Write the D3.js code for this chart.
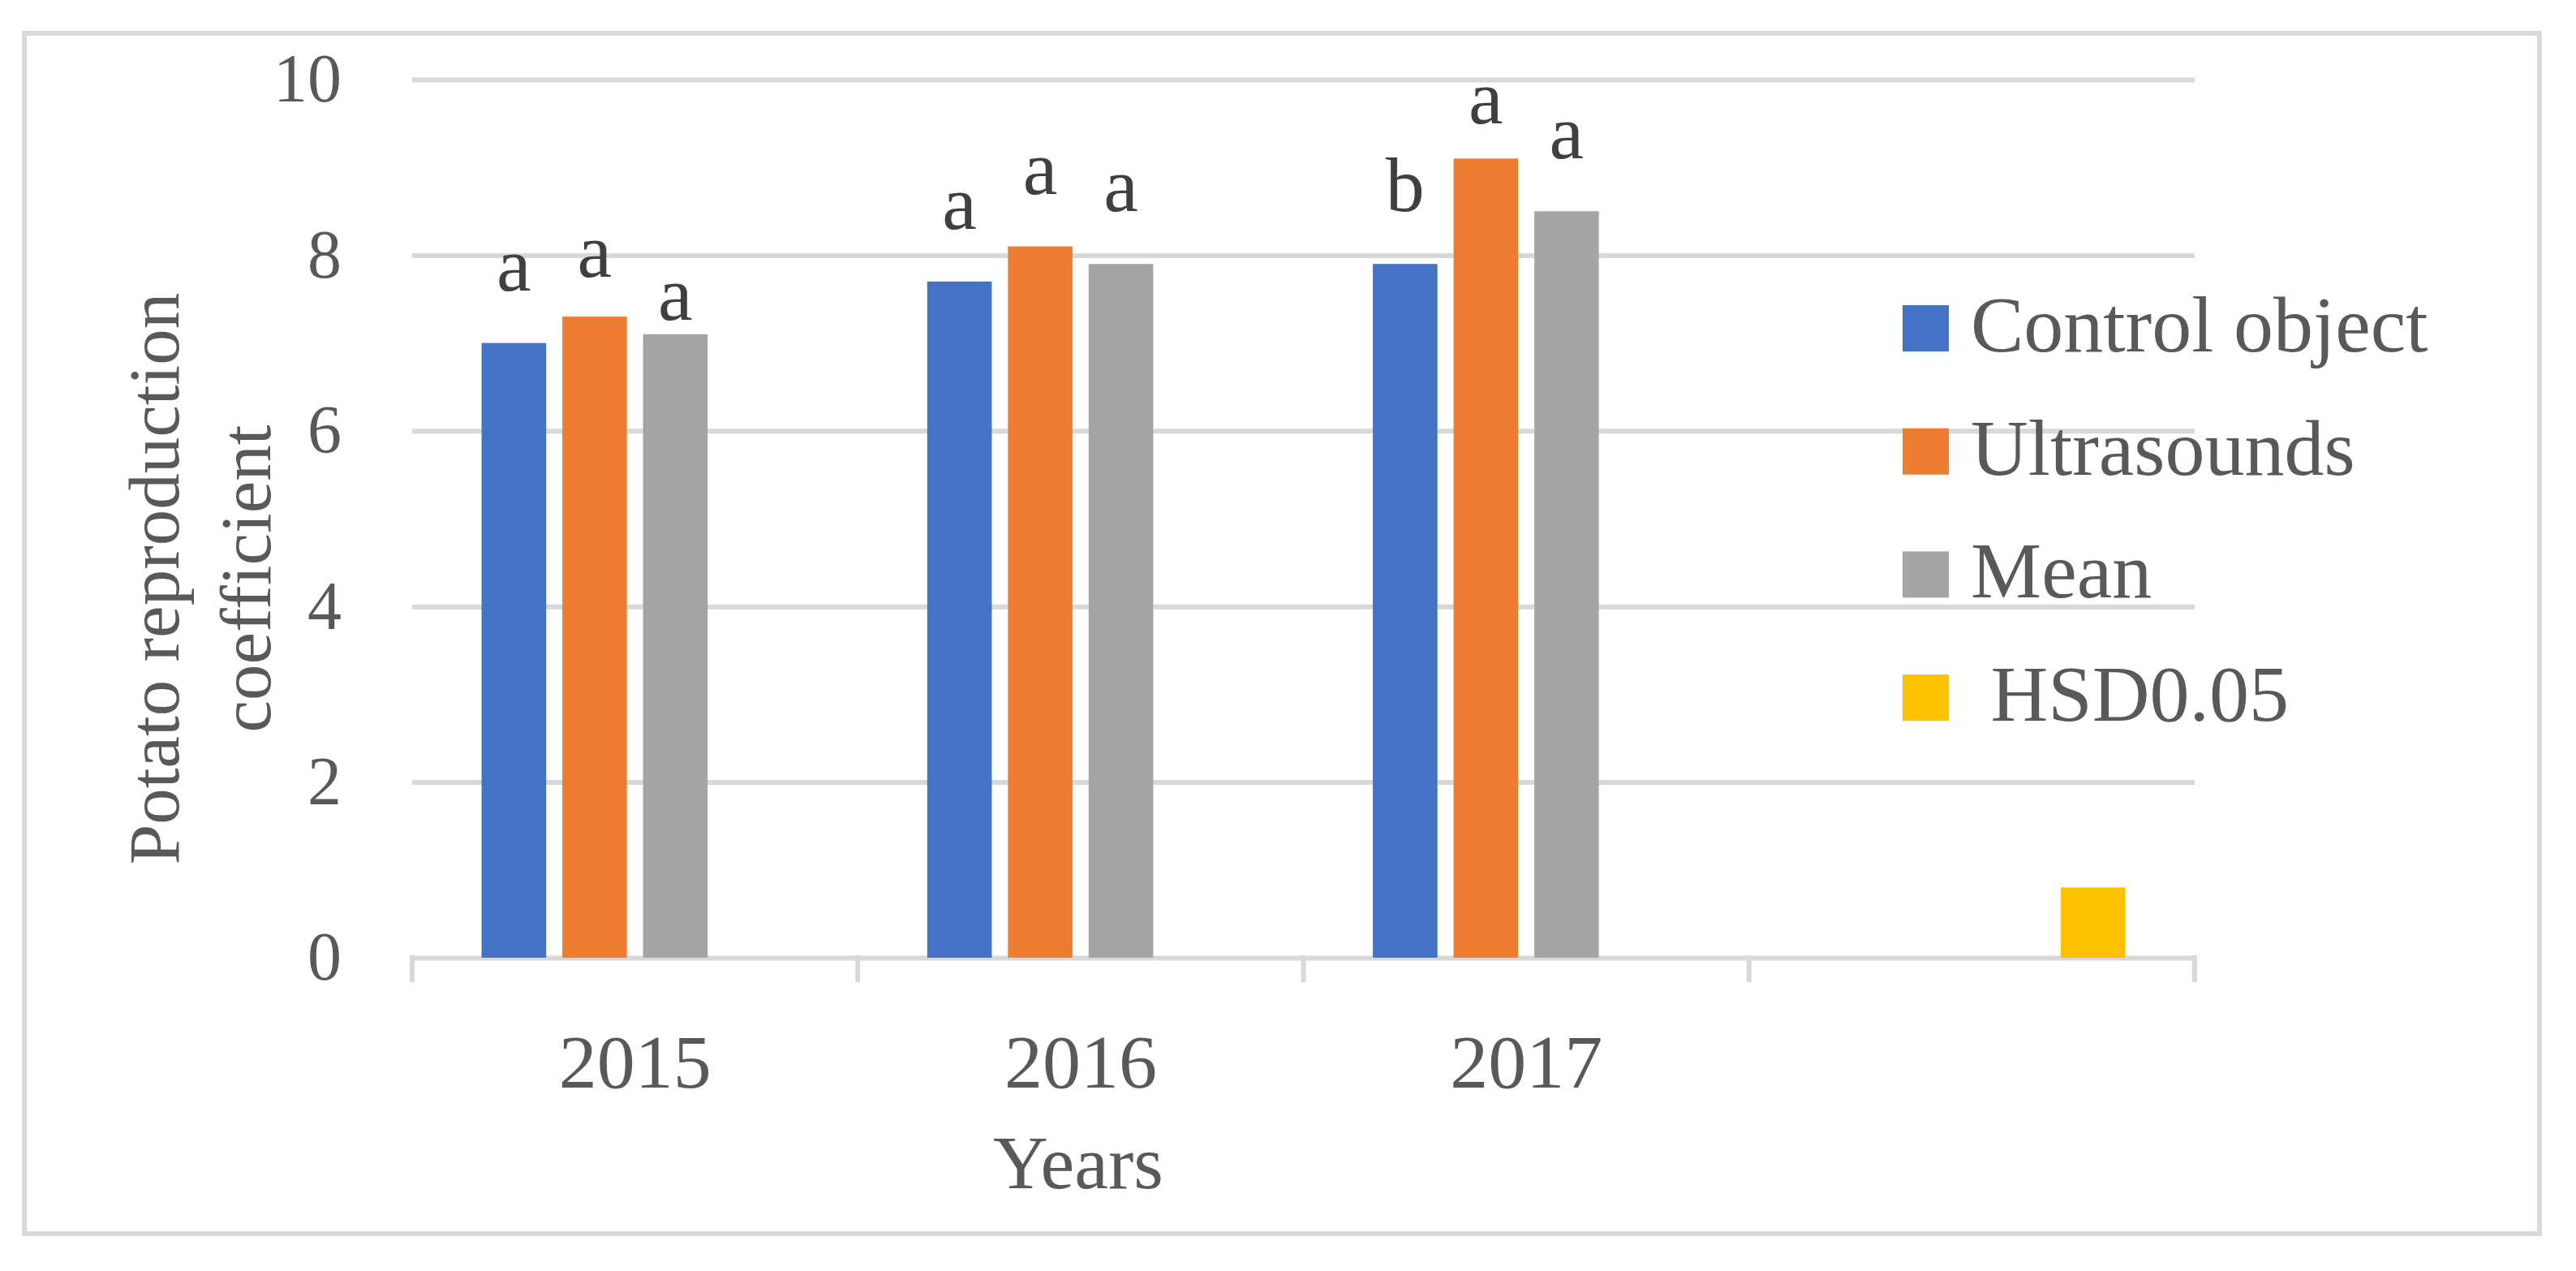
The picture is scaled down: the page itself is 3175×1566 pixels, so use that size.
<!DOCTYPE html>
<html>
<head>
<meta charset="utf-8">
<script src="https://cdn.jsdelivr.net/npm/d3@7/dist/d3.min.js"></script>
<style>
  body { margin: 0; background: #fff; }
  text { font-family: "Liberation Serif", "Times New Roman", serif; }
</style>
</head>
<body>
<script>
// data
var years = ["2015", "2016", "2017", ""];
var seriesNames = ["Control object", "Ultrasounds", "Mean", " HSD0.05"];
var controlValues = [7.0, 7.7, 7.9, null];
var ultrasoundValues = [7.3, 8.1, 9.1, null];
var meanValues = [7.1, 7.9, 8.5, null];
var hsdValues = [null, null, null, 0.8];
var controlLetters = ["a", "a", "b"];
var ultrasoundLetters = ["a", "a", "a"];
var meanLetters = ["a", "a", "a"];
var yTicks = [0, 2, 4, 6, 8, 10];
var colors = ["#4472C4", "#ED7D31", "#A5A5A5", "#FFC000"];

var W = 3175, H = 1566;
var plotLeft = 508, plotRight = 2705, plotTop = 98, plotBottom = 1180;
var grey = "#d9d9d9";

var svg = d3.select("body").append("svg")
    .attr("width", W).attr("height", H);

svg.append("rect").attr("width", W).attr("height", H).attr("fill", "#fff");

// chart border
svg.append("rect")
    .attr("x", 30).attr("y", 41)
    .attr("width", 3100).attr("height", 1479)
    .attr("fill", "none")
    .attr("stroke", grey)
    .attr("stroke-width", 6);

var y = d3.scaleLinear().domain([0, 10]).range([plotBottom, plotTop]);
var x0 = d3.scaleBand().domain(years).range([plotLeft, plotRight]).paddingInner(0).paddingOuter(0);
var x1 = d3.scaleBand().domain(seriesNames).range([0, x0.bandwidth()])
    .paddingInner(0.2).paddingOuter(0.86);

// gridlines + y tick labels
var yAxis = svg.append("g")
    .attr("transform", "translate(" + plotLeft + ",0)")
    .call(d3.axisLeft(y).tickValues(yTicks).tickSize(-(plotRight - plotLeft)).tickPadding(87));
yAxis.select(".domain").remove();
yAxis.selectAll(".tick line").attr("stroke", grey).attr("stroke-width", 6);
yAxis.selectAll(".tick text")
    .attr("fill", "#595959")
    .style("font-size", "84px")
    .style("font-family", "Liberation Serif, serif");

// category boundary ticks under the axis
var bounds = years.map(function(d){ return x0(d); }).concat([x0.range()[1]]);
svg.selectAll(".xtick").data(bounds).enter().append("line")
    .attr("x1", function(d){ return d; })
    .attr("x2", function(d){ return d; })
    .attr("y1", plotBottom - 3)
    .attr("y2", plotBottom + 30)
    .attr("stroke", grey)
    .attr("stroke-width", 6);

svg.selectAll(".year").data(years).enter().append("text")
    .attr("x", function(d){ return x0(d) + x0.bandwidth() / 2; })
    .attr("y", 1340)
    .attr("text-anchor", "middle")
    .attr("fill", "#595959")
    .style("font-size", "94px")
    .text(function(d){ return d; });

// bars
var allSeries = [controlValues, ultrasoundValues, meanValues, hsdValues];
var bars = [];
allSeries.forEach(function(vals, s){
  vals.forEach(function(v, i){
    if (v !== null) bars.push({year: years[i], series: seriesNames[s], s: s, i: i, v: v});
  });
});

svg.selectAll(".bar").data(bars).enter().append("rect")
    .attr("x", function(d){ return x0(d.year) + x1(d.series); })
    .attr("y", function(d){ return y(d.v); })
    .attr("width", x1.bandwidth())
    .attr("height", function(d){ return y(0) - y(d.v); })
    .attr("fill", function(d){ return colors[d.s]; });

// significance letters
var allLetters = [controlLetters, ultrasoundLetters, meanLetters];
var nudge = {"1-0": 16, "2-0": 47, "1-2": 22};   // hand-placed labels sit lower
var letters = [];
allLetters.forEach(function(arr, s){
  arr.forEach(function(t, i){
    letters.push({t: t, s: s, i: i, v: allSeries[s][i]});
  });
});
svg.selectAll(".letter").data(letters).enter().append("text")
    .attr("x", function(d){ return x0(years[d.i]) + x1(seriesNames[d.s]) + x1.bandwidth() / 2; })
    .attr("y", function(d){ return y(d.v) - 65 + (nudge[d.s + "-" + d.i] || 0); })
    .attr("text-anchor", "middle")
    .attr("fill", "#404040")
    .style("font-size", "96px")
    .text(function(d){ return d.t; });

// axis titles
svg.append("text")
    .attr("x", 1329).attr("y", 1464)
    .attr("text-anchor", "middle")
    .attr("fill", "#595959")
    .style("font-size", "94px")
    .text("Years");

var yt = svg.append("text")
    .attr("transform", "translate(220,713) rotate(-90)")
    .attr("text-anchor", "middle")
    .attr("fill", "#595959")
    .style("font-size", "89px");
yt.append("tspan").attr("x", 0).attr("y", 0).text("Potato reproduction");
yt.append("tspan").attr("x", 0).attr("y", 113).text("coefficient");

// legend
var lg = svg.selectAll(".leg").data(seriesNames).enter().append("g")
    .attr("transform", function(d, i){ return "translate(2345," + (433 + i * 151.7) + ")"; });
lg.append("rect")
    .attr("x", 0).attr("y", -57)
    .attr("width", 57).attr("height", 57)
    .attr("fill", function(d, i){ return colors[i]; });
lg.append("text")
    .attr("x", 84).attr("y", 0)
    .attr("fill", "#595959")
    .attr("xml:space", "preserve")
    .style("white-space", "pre")
    .style("font-size", "98px")
    .text(function(d){ return d; });
</script>
</body>
</html>
